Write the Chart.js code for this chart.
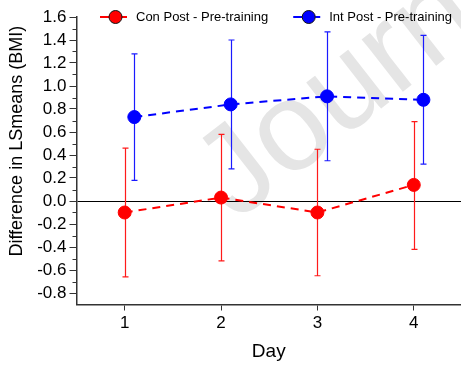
<!DOCTYPE html>
<html>
<head>
<meta charset="utf-8">
<script src="https://cdn.jsdelivr.net/npm/chart.js@4.4.1/dist/chart.umd.min.js"></script>
<style>
  html, body { margin: 0; padding: 0; background: #fff; }
  #wrap { width: 461px; height: 368px; }
</style>
</head>
<body>
<div id="wrap"><canvas id="lsmeans"></canvas></div>
<script>
// LSmeans differences (post - pre-training) by day, with upper/lower limits
const days = [1, 2, 3, 4];
const conMean = [-0.10, 0.03, -0.10, 0.14];
const conLow = [-0.66, -0.52, -0.65, -0.42];
const conHigh = [0.46, 0.58, 0.45, 0.69];
const intMean = [0.73, 0.84, 0.91, 0.88];
const intLow = [0.18, 0.28, 0.35, 0.32];
const intHigh = [1.28, 1.40, 1.47, 1.44];
const intShift = 0.1; // Int points sit a little to the right of the day
const yTicks = [-0.8, -0.6, -0.4, -0.2, 0.0, 0.2, 0.4, 0.6, 0.8, 1.0, 1.2, 1.4, 1.6];
const yMinor = [-0.7, -0.5, -0.3, -0.1, 0.1, 0.3, 0.5, 0.7, 0.9, 1.1, 1.3, 1.5];
const yTitle = 'Difference in LSmeans (BMI)';

const FONT = "'Liberation Sans', Arial, sans-serif";

// faint diagonal watermark behind everything
const watermark = {
    id: 'watermark',
    beforeDraw(chart) {
        const ctx = chart.ctx;
        ctx.save();
        ctx.translate(236, 222);
        ctx.rotate(-38 * Math.PI / 180);
        ctx.font = '126px ' + FONT;
        ctx.fillStyle = '#e5e5e5';
        ctx.textBaseline = 'alphabetic';
        ctx.fillText('Journal Pre-proof', 0, 0);
        ctx.restore();
    }
};

// vertical bars with caps, from the low/high arrays of each dataset
const errorBars = {
    id: 'errorBars',
    beforeDatasetsDraw(chart) {
        const { ctx, scales: { x, y } } = chart;
        chart.data.datasets.forEach(ds => {
            ctx.save();
            ctx.strokeStyle = ds.barColor;
            ctx.lineWidth = 1.2;
            ds.data.forEach((p, i) => {
                const px = Math.round(x.getPixelForValue(p.x)) + 0.5;
                const top = y.getPixelForValue(ds.high[i]);
                const bot = y.getPixelForValue(ds.low[i]);
                ctx.beginPath();
                ctx.moveTo(px, top); ctx.lineTo(px, bot);
                ctx.moveTo(px - 3, top); ctx.lineTo(px + 3, top);
                ctx.moveTo(px - 3, bot); ctx.lineTo(px + 3, bot);
                ctx.stroke();
            });
            ctx.restore();
        });
    }
};

// short minor ticks on the y axis, plus the y title (sits a bit above centre)
const yAxisExtras = {
    id: 'yAxisExtras',
    afterDraw(chart) {
        const { ctx, scales: { y } } = chart;
        const left = chart.chartArea.left;
        ctx.save();
        ctx.strokeStyle = '#333';
        ctx.lineWidth = 1;
        yMinor.forEach(v => {
            const py = Math.round(y.getPixelForValue(v)) + 0.5;
            ctx.beginPath();
            ctx.moveTo(left - 4, py);
            ctx.lineTo(left, py);
            ctx.stroke();
        });
        ctx.translate(17, y.getPixelForValue(0.52));
        ctx.rotate(-Math.PI / 2);
        ctx.font = '18px ' + FONT;
        ctx.fillStyle = '#000';
        ctx.textAlign = 'center';
        ctx.textBaseline = 'middle';
        ctx.fillText(yTitle, 0, 0);
        ctx.restore();
    }
};

// legend inside the plot: line - marker - line, then the label
const inlineLegend = {
    id: 'inlineLegend',
    afterDraw(chart) {
        const ctx = chart.ctx;
        const cy = 17;
        let x = 100;
        ctx.save();
        ctx.font = '13px ' + FONT;
        ctx.textBaseline = 'middle';
        chart.data.datasets.forEach(ds => {
            ctx.strokeStyle = ds.borderColor;
            ctx.lineWidth = 2;
            ctx.beginPath();
            ctx.moveTo(x, cy); ctx.lineTo(x + 9, cy);
            ctx.moveTo(x + 22, cy); ctx.lineTo(x + 27, cy);
            ctx.stroke();
            ctx.beginPath();
            ctx.arc(x + 15.5, cy, 6.5, 0, Math.PI * 2);
            ctx.fillStyle = ds.pointBackgroundColor;
            ctx.fill();
            ctx.strokeStyle = '#111';
            ctx.lineWidth = 1;
            ctx.stroke();
            ctx.fillStyle = '#000';
            ctx.fillText(ds.label, x + 36, cy);
            x += 36 + ctx.measureText(ds.label).width + 25;
        });
        ctx.restore();
    }
};

new Chart(document.getElementById('lsmeans'), {
    type: 'line',
    data: {
        datasets: [{
            label: 'Con Post - Pre-training',
            data: days.map((d, i) => ({ x: d, y: conMean[i] })),
            low: conLow,
            high: conHigh,
            barColor: '#ff1a1a',
            borderColor: '#ff0000',
            pointBackgroundColor: '#ff0000'
        }, {
            label: 'Int Post - Pre-training',
            data: days.map((d, i) => ({ x: d + intShift, y: intMean[i] })),
            low: intLow,
            high: intHigh,
            barColor: '#1a1aff',
            borderColor: '#0000ff',
            pointBackgroundColor: '#0000ff'
        }]
    },
    options: {
        responsive: true,
        maintainAspectRatio: false,
        animation: false,
        layout: { autoPadding: false, padding: { top: 17, right: 0, bottom: 0, left: 0 } },
        elements: {
            line: { borderWidth: 2, borderDash: [8, 6], tension: 0, fill: false },
            point: { radius: 6.5, hoverRadius: 6.5, borderWidth: 1, borderColor: '#111' }
        },
        plugins: {
            legend: { display: false },
            tooltip: { enabled: false }
        },
        scales: {
            x: {
                type: 'linear',
                min: 0.5,
                max: 4.49,
                afterBuildTicks: s => { s.ticks = days.map(v => ({ value: v })); },
                afterFit: s => { s.height = 63.5; s.paddingLeft = 0; s.paddingRight = 0; },
                border: { display: true, color: '#333', width: 1.5 },
                grid: { drawOnChartArea: false, tickLength: 6, tickColor: '#333' },
                ticks: {
                    color: '#000',
                    font: { family: FONT, size: 17 },
                    padding: 3,
                    callback: v => String(v)
                },
                title: {
                    display: true,
                    text: 'Day',
                    color: '#000',
                    font: { family: FONT, size: 19 },
                    padding: { top: 4, bottom: 5 }
                }
            },
            y: {
                min: -0.9,
                max: 1.6,
                afterBuildTicks: s => { s.ticks = yTicks.map(v => ({ value: v })); },
                afterFit: s => { s.width = 76.5; },
                border: { display: true, color: '#333', width: 1.5 },
                grid: {
                    color: c => (c.tick && c.tick.value === 0 ? '#000' : 'rgba(0,0,0,0)'),
                    lineWidth: 1,
                    tickLength: 7,
                    tickColor: '#333'
                },
                ticks: {
                    color: '#000',
                    font: { family: FONT, size: 17 },
                    padding: 3,
                    callback: v => v.toFixed(1)
                }
            }
        }
    },
    plugins: [watermark, errorBars, yAxisExtras, inlineLegend]
});
</script>
</body>
</html>
